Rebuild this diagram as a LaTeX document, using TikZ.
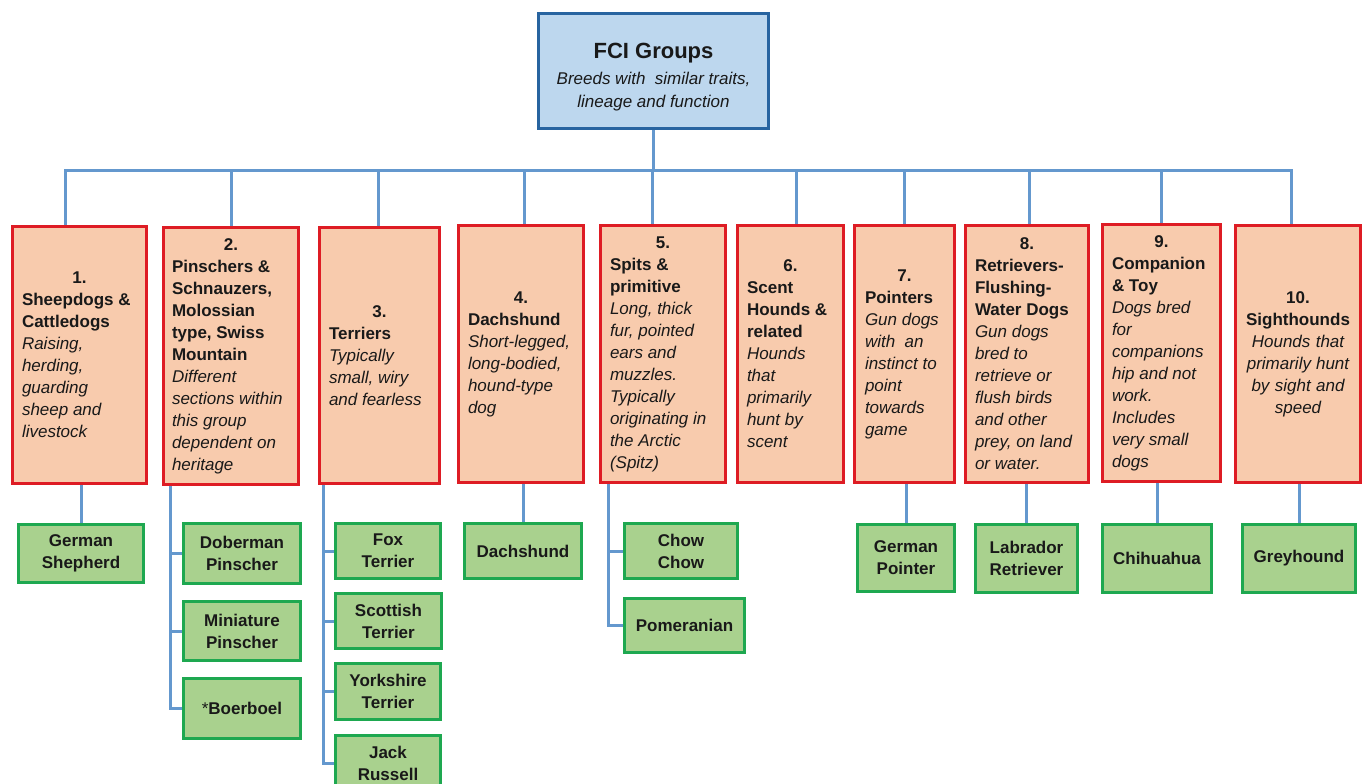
\documentclass[tikz,border=0pt]{standalone}
\usepackage{fontspec}
\setmainfont{Liberation Sans}
\usetikzlibrary{backgrounds}
\definecolor{peach}{RGB}{248,203,173}
\definecolor{grpred}{RGB}{222,28,36}
\definecolor{leafgreen}{RGB}{169,209,142}
\definecolor{leafborder}{RGB}{30,168,80}
\definecolor{topfill}{RGB}{189,215,238}
\definecolor{topborder}{RGB}{40,100,160}
\definecolor{connblue}{RGB}{100,152,206}
\definecolor{txt}{RGB}{25,25,25}
\newcommand\natspace{\spaceskip=0pt\xspaceskip=0pt\relax}
\newcommand\grpnum[1]{\natspace\makebox[\linewidth]{\bfseries #1}\\}
\begin{document}
\begin{tikzpicture}[x=1pt,y=-1pt,
  grp/.style={draw=grpred, fill=peach, line width=3pt, inner sep=0pt, align=left, text=txt,
    font=\fontsize{17}{22}\selectfont},
  leaf/.style={draw=leafborder, fill=leafgreen, line width=3pt, inner sep=0pt, align=center, text=txt,
    font=\fontsize{17}{22}\selectfont\bfseries},
  topbox/.style={draw=topborder, fill=topfill, line width=3pt, inner sep=0pt, align=center, text=txt,
    font=\fontsize{17}{23}\selectfont\itshape},
  conn/.style={draw=connblue, line width=3pt}]
\useasboundingbox (0,0) rectangle (1368,784);
\clip (0,0) rectangle (1368,784);

% top
\node[topbox, minimum width=230pt, minimum height=115pt] (top) at (653.5,71)
  {\rule{0pt}{27pt}{\fontsize{22}{23}\selectfont\bfseries\upshape FCI Groups}\\[3pt]
   Breeds with\ \ similar traits,\\lineage and function};

% groups
\node[grp, minimum width=134pt, minimum height=257pt, text width=115pt] (g1) at (79.5,355)
  {\grpnum{1.}{\bfseries Sheepdogs \&\\Cattledogs}\\{\itshape Raising,\\herding,\\guarding\\sheep and\\livestock}};
\node[grp, minimum width=135pt, minimum height=257pt, text width=118pt] (g2) at (231,356)
  {\grpnum{2.}{\bfseries Pinschers \&\\Schnauzers,\\Molossian\\type, Swiss\\Mountain}\\{\itshape Different\\sections within\\this group\\dependent on\\heritage}};
\node[grp, minimum width=120pt, minimum height=256pt, text width=101pt] (g3) at (379.5,355.5)
  {\grpnum{3.}{\bfseries Terriers}\\{\itshape Typically\\small, wiry\\and fearless}};
\node[grp, minimum width=125pt, minimum height=257pt, text width=106pt] (g4) at (521,354)
  {\grpnum{4.}{\bfseries Dachshund}\\{\itshape Short-legged,\\long-bodied,\\hound-type\\dog}};
\node[grp, minimum width=125pt, minimum height=257pt, text width=106pt] (g5) at (663,354)
  {\grpnum{5.}{\bfseries Spits \&\\primitive}\\{\itshape Long, thick\\fur, pointed\\ears and\\muzzles.\\Typically\\originating in\\the Arctic\\(Spitz)}};
\node[grp, minimum width=106pt, minimum height=257pt, text width=87pt] (g6) at (790.5,354)
  {\grpnum{6.}{\bfseries Scent\\Hounds \&\\related}\\{\itshape Hounds\\that\\primarily\\hunt by\\scent}};
\node[grp, minimum width=100pt, minimum height=257pt, text width=79pt] (g7) at (904.5,354)
  {\grpnum{7.}{\bfseries Pointers}\\{\itshape Gun dogs\\with\ \ an\\instinct to\\point\\towards\\game}};
\node[grp, minimum width=123pt, minimum height=257pt, text width=104pt] (g8) at (1027,354)
  {\grpnum{8.}{\bfseries Retrievers-\\Flushing-\\Water Dogs}\\{\itshape Gun dogs\\bred to\\retrieve or\\flush birds\\and other\\prey, on land\\or water.}};
\node[grp, minimum width=118pt, minimum height=257pt, text width=99pt] (g9) at (1161.5,353)
  {\grpnum{9.}{\bfseries Companion\\\& Toy}\\{\itshape Dogs bred\\for\\companions\\hip and not\\work.\\Includes\\very small\\dogs}};
\node[grp, align=center, minimum width=125pt, minimum height=257pt, text width=112pt] (g10) at (1298,354)
  {\natspace{\bfseries 10.\\Sighthounds}\\{\itshape Hounds that\\primarily hunt\\by sight and\\speed}};

% leaves
\node[leaf, minimum width=125pt, minimum height=58pt] (gs) at (81,553.5) {German\\Shepherd};
\node[leaf, minimum width=117pt, minimum height=60pt] (dob) at (242,553.5) {Doberman\\Pinscher};
\node[leaf, minimum width=117pt, minimum height=59pt] (mini) at (242,631) {Miniature\\Pinscher};
\node[leaf, minimum width=117pt, minimum height=60pt] (boer) at (242,708.5) {\mdseries*\bfseries Boerboel};
\node[leaf, minimum width=105pt, minimum height=55pt] (fox) at (388,551) {Fox\\Terrier};
\node[leaf, minimum width=106pt, minimum height=55pt] (scot) at (388.5,621) {Scottish\\Terrier};
\node[leaf, minimum width=105pt, minimum height=56pt] (york) at (388,691.5) {Yorkshire\\Terrier};
\node[leaf, minimum width=105pt, minimum height=55pt] (jack) at (388,763) {Jack\\Russell};
\node[leaf, minimum width=117pt, minimum height=55pt] (dach) at (523,551) {Dachshund};
\node[leaf, minimum width=113pt, minimum height=55pt] (chow) at (681,551) {Chow\\Chow};
\node[leaf, minimum width=120pt, minimum height=54pt] (pom) at (684.5,625.5) {Pomeranian};
\node[leaf, minimum width=97pt, minimum height=67pt] (gp) at (906,558) {German\\Pointer};
\node[leaf, minimum width=102pt, minimum height=68pt] (lab) at (1026.5,558.5) {Labrador\\Retriever};
\node[leaf, minimum width=109pt, minimum height=68pt] (chi) at (1157,558.5) {Chihuahua};
\node[leaf, minimum width=113pt, minimum height=68pt] (grey) at (1299,558.5) {Greyhound};

% connectors
\begin{scope}[on background layer]
\fill[white] (0,0) rectangle (1368,784);
\coordinate (bus) at (653.5,170);
\draw[conn] (top.south) -- (bus);
\draw[conn] ([xshift=-14.5pt]g1.north) |- (bus);
\draw[conn] (g2.north) |- (bus);
\draw[conn] ([xshift=-1.5pt]g3.north) |- (bus);
\draw[conn] ([xshift=3pt]g4.north) |- (bus);
\draw[conn] ([xshift=-11pt]g5.north) |- (bus);
\draw[conn] ([xshift=5.5pt]g6.north) |- (bus);
\draw[conn] (g7.north) |- (bus);
\draw[conn] ([xshift=2pt]g8.north) |- (bus);
\draw[conn] (g9.north) |- (bus);
\draw[conn] ([xshift=-7pt]g10.north) |- (bus);

\draw[conn] (gs.north) -- (gs.north |- g1.south);
\draw[conn] ([xshift=-61pt]g2.south) |- (dob.west);
\draw[conn] ([xshift=-61pt]g2.south) |- (mini.west);
\draw[conn] ([xshift=-61pt]g2.south) |- (boer.west);
\draw[conn] ([xshift=-56.5pt]g3.south) |- (fox.west);
\draw[conn] ([xshift=-56.5pt]g3.south) |- (scot.west);
\draw[conn] ([xshift=-56.5pt]g3.south) |- (york.west);
\draw[conn] ([xshift=-56.5pt]g3.south) |- (jack.west);
\draw[conn] (dach.north) -- (dach.north |- g4.south);
\draw[conn] ([xshift=-55pt]g5.south) |- (chow.west);
\draw[conn] ([xshift=-55pt]g5.south) |- (pom.west);
\draw[conn] (gp.north) -- (gp.north |- g7.south);
\draw[conn] (lab.north) -- (lab.north |- g8.south);
\draw[conn] (chi.north) -- (chi.north |- g9.south);
\draw[conn] (grey.north) -- (grey.north |- g10.south);
\end{scope}
\end{tikzpicture}
\end{document}
